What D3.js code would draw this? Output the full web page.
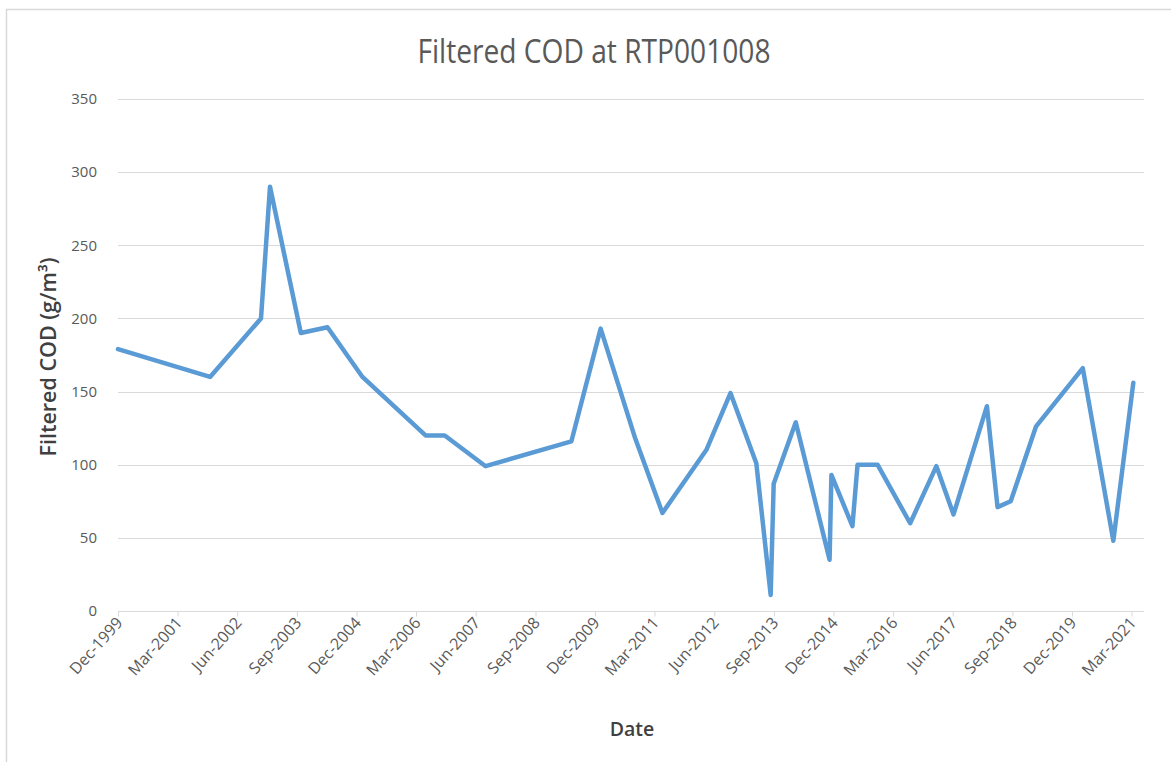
<!DOCTYPE html>
<html>
<head>
<meta charset="utf-8">
<script src="https://cdn.jsdelivr.net/npm/d3@7"></script>
<style>
  body { margin: 0; background: #fff; }
  svg { display: block; font-family: "Open Sans", "Noto Sans", sans-serif; }
</style>
</head>
<body>
<svg></svg>
<script>
const width = 1171, height = 762

// sample dates and filtered COD values (g/m3)
const dates = [
  "1999-12-01", "2001-11-05", "2002-11-30", "2003-02-07", "2003-10-01",
  "2004-04-22", "2005-01-15", "2006-05-13", "2006-10-07", "2007-08-16",
  "2009-06-03", "2010-01-13", "2010-10-01", "2011-05-01", "2012-04-01",
  "2012-10-03", "2013-04-19", "2013-08-07", "2013-08-30", "2014-02-15",
  "2014-11-01", "2014-11-15", "2015-04-25", "2015-06-03", "2015-11-03",
  "2016-07-10", "2017-01-27", "2017-06-07", "2018-02-18", "2018-05-10",
  "2018-08-19", "2019-02-28", "2020-02-22", "2020-10-13", "2021-03-15"
]
const codValues = [
  179, 160, 200, 290, 190,
  194, 160, 120, 120, 99,
  116, 193, 119, 67, 110,
  149, 101, 11, 87, 129,
  35, 93, 58, 100, 100,
  60, 99, 66, 140, 71,
  75, 126, 166, 48, 156
]
const xTickLabels = [
  "Dec-1999", "Mar-2001", "Jun-2002", "Sep-2003", "Dec-2004", "Mar-2006",
  "Jun-2007", "Sep-2008", "Dec-2009", "Mar-2011", "Jun-2012", "Sep-2013",
  "Dec-2014", "Mar-2016", "Jun-2017", "Sep-2018", "Dec-2019", "Mar-2021"
]
const yTicks = [0, 50, 100, 150, 200, 250, 300, 350]

const parseDate = d3.timeParse("%Y-%m-%d")
const parseTick = d3.timeParse("%b-%Y")
const data = dates.map((d, i) => ({ date: parseDate(d), value: codValues[i] }))
const tickDates = xTickLabels.map(parseTick)

const svg = d3.select("svg")
    .attr("width", width)
    .attr("height", height)

// chart frame
svg.append("rect")
    .attr("x", 6.5).attr("y", 9.5)
    .attr("width", width + 10).attr("height", height + 10)
    .attr("fill", "none")
    .attr("stroke", "#d9d9d9")
    .attr("stroke-width", 1.5)

const x = d3.scaleTime()
    .domain([tickDates[0], tickDates[tickDates.length - 1]])
    .range([118, 1131.5])

const y = d3.scaleLinear()
    .domain([0, 350])
    .range([611, 99])

const plotRight = 1144

// horizontal gridlines
svg.append("g")
    .selectAll("line")
    .data(yTicks.filter(d => d > 0))
    .enter()
    .append("line")
    .attr("x1", 118).attr("x2", plotRight)
    .attr("y1", d => Math.round(y(d)) + 0.5)
    .attr("y2", d => Math.round(y(d)) + 0.5)
    .attr("stroke", "#d9d9d9")
    .attr("stroke-width", 1)

// y axis labels
const yAxis = d3.axisLeft(y).tickValues(yTicks).tickSize(0).tickPadding(21)
svg.append("g")
    .attr("transform", "translate(118,0)")
    .call(yAxis)
    .call(g => g.select(".domain").remove())
    .call(g => g.selectAll("text")
        .attr("fill", "#595959")
        .attr("font-size", 15)
        .attr("font-family", "Open Sans, sans-serif"))

// x axis
const xAxis = d3.axisBottom(x)
    .tickValues(tickDates)
    .tickFormat((d, i) => xTickLabels[i])
    .tickSize(5)
    .tickSizeOuter(0)
svg.append("g")
    .attr("transform", "translate(0,611.5)")
    .call(xAxis)
    .call(g => g.select(".domain").remove())
    .call(g => g.selectAll(".tick line").attr("stroke", "#d9d9d9"))
    .call(g => g.selectAll("text")
        .attr("fill", "#595959")
        .attr("font-size", 16)
        .attr("font-family", "Open Sans, sans-serif")
        .attr("text-anchor", "end")
        .attr("dy", null)
        .attr("y", 0)
        .attr("transform", "translate(5,12) rotate(-48)"))

svg.append("line")
    .attr("x1", 118).attr("x2", plotRight)
    .attr("y1", 611.5).attr("y2", 611.5)
    .attr("stroke", "#d9d9d9")

// data line
const line = d3.line()
    .x(d => x(d.date))
    .y(d => y(d.value))

svg.append("path")
    .datum(data)
    .attr("d", line)
    .attr("fill", "none")
    .attr("stroke", "#5b9bd5")
    .attr("stroke-width", 4.5)
    .attr("stroke-linejoin", "round")
    .attr("stroke-linecap", "round")

// title
svg.append("text")
    .attr("transform", "translate(594,63) scale(0.88,1)")
    .attr("text-anchor", "middle")
    .attr("fill", "#595959")
    .attr("font-size", 32)
    .text("Filtered COD at RTP001008")

// axis titles
svg.append("text")
    .attr("transform", "translate(56,357) rotate(-90)")
    .attr("text-anchor", "middle")
    .attr("fill", "#404040")
    .attr("font-size", 21.5)
    .attr("font-weight", 600)
    .text("Filtered COD (g/m³)")

svg.append("text")
    .attr("x", 632).attr("y", 736)
    .attr("text-anchor", "middle")
    .attr("fill", "#404040")
    .attr("font-size", 19.5)
    .attr("font-weight", 600)
    .text("Date")
</script>
</body>
</html>
